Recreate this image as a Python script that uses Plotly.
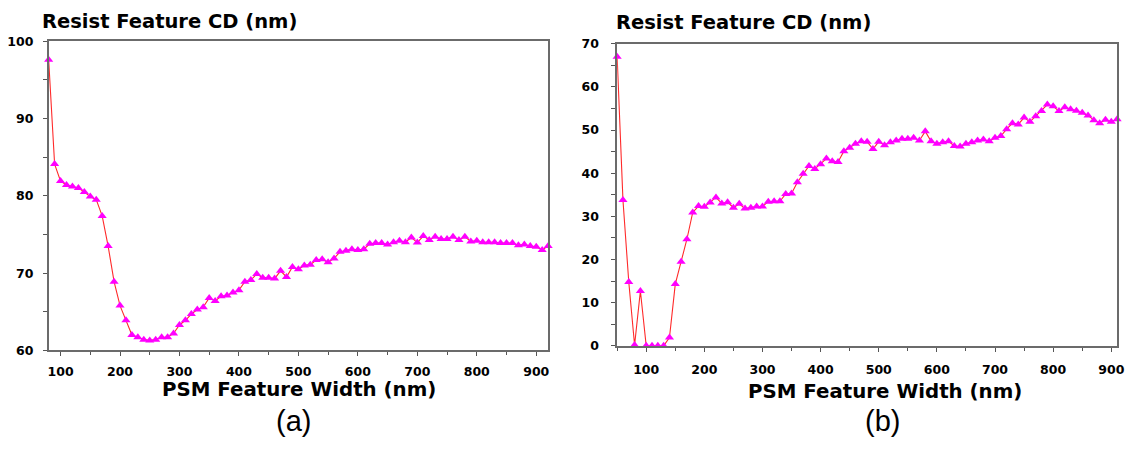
import plotly.graph_objects as go

W, H = 1139, 449

width_a = [80, 90, 100, 110, 120, 130, 140, 150, 160, 170, 180, 190, 200, 210, 220, 230, 240, 250,
           260, 270, 280, 290, 300, 310, 320, 330, 340, 350, 360, 370, 380, 390, 400, 410, 420, 430,
           440, 450, 460, 470, 480, 490, 500, 510, 520, 530, 540, 550, 560, 570, 580, 590, 600, 610,
           620, 630, 640, 650, 660, 670, 680, 690, 700, 710, 720, 730, 740, 750, 760, 770, 780, 790,
           800, 810, 820, 830, 840, 850, 860, 870, 880, 890, 900, 910, 920]
cd_a = [97.6, 84.1, 81.9, 81.4, 81.2, 81.0, 80.5, 79.9, 79.5, 77.4, 73.5, 68.9, 65.8, 63.9, 62.0,
        61.7, 61.4, 61.3, 61.4, 61.7, 61.7, 62.2, 63.3, 63.9, 64.7, 65.3, 65.6, 66.8, 66.4, 67.0,
        67.1, 67.5, 67.8, 68.9, 69.1, 69.9, 69.4, 69.4, 69.3, 70.3, 69.5, 70.8, 70.5, 71.0, 71.1,
        71.7, 71.8, 71.4, 71.9, 72.75, 72.9, 73.1, 73.0, 73.1, 73.8, 73.9, 73.9, 73.7, 74.0, 74.2,
        74.0, 74.6, 73.95, 74.8, 74.3, 74.7, 74.4, 74.4, 74.7, 74.3, 74.7, 74.1, 74.2, 74.0, 74.0,
        74.0, 73.9, 73.9, 73.9, 73.6, 73.7, 73.5, 73.4, 73.0, 73.5]

width_b = [50, 60, 70, 80, 90, 100, 110, 120, 130, 140, 150, 160, 170, 180, 190, 200, 210, 220,
           230, 240, 250, 260, 270, 280, 290, 300, 310, 320, 330, 340, 350, 360, 370, 380, 390, 400,
           410, 420, 430, 440, 450, 460, 470, 480, 490, 500, 510, 520, 530, 540, 550, 560, 570, 580,
           590, 600, 610, 620, 630, 640, 650, 660, 670, 680, 690, 700, 710, 720, 730, 740, 750, 760,
           770, 780, 790, 800, 810, 820, 830, 840, 850, 860, 870, 880, 890, 900, 910]
cd_b = [67.0, 33.8, 14.8, 0.2, 12.7, 0.0, 0.0, 0.0, 0.0, 1.9, 14.3, 19.5, 24.7, 30.9, 32.4, 32.2,
        33.2, 34.4, 33.0, 33.3, 32.0, 32.9, 31.8, 32.0, 32.3, 32.3, 33.4, 33.5, 33.5, 35.2, 35.3,
        37.9, 39.9, 41.7, 41.0, 42.1, 43.4, 42.8, 42.6, 45.1, 45.9, 46.8, 47.4, 47.3, 45.6, 47.3,
        46.5, 47.2, 47.6, 48.0, 48.0, 48.2, 47.6, 49.7, 47.4, 46.8, 47.2, 47.4, 46.3, 46.2, 46.8,
        47.2, 47.6, 47.8, 47.4, 48.2, 48.6, 50.2, 51.6, 51.3, 52.9, 51.9, 53.2, 54.4, 55.9, 55.5,
        54.4, 55.3, 54.8, 54.5, 54.0, 53.4, 52.3, 51.6, 52.4, 51.9, 52.5]

x_ticks = [100, 200, 300, 400, 500, 600, 700, 800, 900]
y_ticks_a = [60, 70, 80, 90, 100]
y_ticks_b = [0, 10, 20, 30, 40, 50, 60, 70]

y_title = "Resist Feature CD (nm)"
x_title = "PSM Feature Width (nm)"
captions = ["(a)", "(b)"]

LINE = "#ff2a2a"
MARK = "#ff00ff"
BOLD = dict(family="DejaVu Sans", size=12.5, color="black", weight="bold")


def px(x):
    return x / W


def py(y):
    return 1 - y / H


fig = go.Figure()
for xs, ys, xa, ya in [(width_a, cd_a, "x", "y"), (width_b, cd_b, "x2", "y2")]:
    fig.add_trace(go.Scatter(
        x=xs, y=ys, xaxis=xa, yaxis=ya, mode="lines+markers",
        line=dict(color=LINE, width=1.1),
        marker=dict(symbol="triangle-up", size=8, color=MARK, line=dict(width=0)),
        cliponaxis=False, showlegend=False,
    ))

axis_common = dict(
    showgrid=False, zeroline=False, showline=True, linecolor="#6b6b6b", linewidth=1.5,
    mirror=True, ticks="outside", ticklen=4, tickcolor="#555", tickwidth=1,
    tickfont=BOLD,
)

fig.update_layout(
    width=W, height=H,
    margin=dict(l=0, r=0, t=0, b=0),
    paper_bgcolor="white", plot_bgcolor="white",
    xaxis=dict(domain=[px(48), px(551)], range=[80, 920], anchor="y",
               tickvals=x_ticks, minor=dict(dtick=50, tick0=0, ticks="outside", ticklen=3, tickcolor="#555"),
               ticklabelstandoff=5, **axis_common),
    yaxis=dict(domain=[py(354.3), py(34.3)], range=[60, 100], anchor="x",
               tickvals=y_ticks_a, minor=dict(dtick=5, tick0=0, ticks="outside", ticklen=4, tickcolor="#555"),
               ticklabelstandoff=7, **axis_common),
    xaxis2=dict(domain=[px(620.5), px(1124)], range=[50, 910], anchor="y2",
                tickvals=x_ticks, minor=dict(dtick=50, tick0=0, ticks="outside", ticklen=3, tickcolor="#555"),
                ticklabelstandoff=7, **axis_common),
    yaxis2=dict(domain=[py(349.5), py(37)], range=[0, 70], anchor="x2",
                tickvals=y_ticks_b, minor=dict(dtick=5, tick0=0, ticks="outside", ticklen=4, tickcolor="#555"),
                ticklabelstandoff=10, **axis_common),
)

ann = []
title_font = dict(family="DejaVu Sans", size=19.5, color="black", weight="bold")
for x0, yc in [(39, 14), (617.5, 15.5)]:
    ann.append(dict(text=y_title, x=px(x0), y=py(yc), xref="paper", yref="paper",
                    xanchor="left", yanchor="middle", showarrow=False, font=title_font))
for xc, yc in [(300, 394.5), (890, 396.5)]:
    ann.append(dict(text=x_title, x=px(xc), y=py(yc), xref="paper", yref="paper",
                    xanchor="center", yanchor="middle", showarrow=False,
                    font=dict(family="DejaVu Sans", size=19.8, color="black", weight="bold")))
for cap, xc, yc in [(captions[0], 295, 427), (captions[1], 887.5, 427)]:
    ann.append(dict(text=cap, x=px(xc), y=py(yc), xref="paper", yref="paper",
                    xanchor="center", yanchor="middle", showarrow=False,
                    font=dict(family="Liberation Sans", size=29, color="black")))
fig.update_layout(annotations=ann)

post = (
    "document.documentElement.style.margin='0';document.documentElement.style.padding='0';"
    "document.documentElement.style.overflow='hidden';"
    "document.body.style.margin='0';document.body.style.padding='0';document.body.style.overflow='hidden';"
    "var d=document.getElementsByClassName('plotly-graph-div')[0];"
    "d.style.position='fixed';d.style.left='0px';d.style.top='0px';"
)
fig.write_html("out.html", config={"displayModeBar": False}, post_script=post)
